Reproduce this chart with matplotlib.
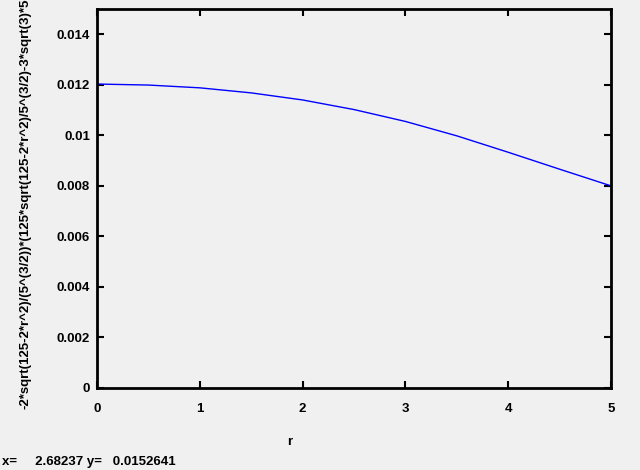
import matplotlib
matplotlib.use("Agg")
import matplotlib.pyplot as plt
from matplotlib import font_manager

r_vals = [0.0, 0.5, 1.0, 1.5, 2.0, 2.5, 3.0, 3.5, 4.0, 4.5, 5.0]
f_vals = [0.01203, 0.01199, 0.01188, 0.01168, 0.01140, 0.01102,
          0.01055, 0.00998, 0.00933, 0.00866, 0.00800]
x_ticks = [0, 1, 2, 3, 4, 5]
y_ticks = [0, 0.002, 0.004, 0.006, 0.008, 0.01, 0.012, 0.014]
y_tick_labels = ["0", "0.002", "0.004", "0.006", "0.008", "0.01", "0.012", "0.014"]
y_label = "-2*sqrt(125-2*r^2)/(5^(3/2))*(125*sqrt(125-2*r^2)/5^(3/2)-3*sqrt(3)*5^(5/2))"
status = "x=     2.68237 y=   0.0152641"

names = {f.name for f in font_manager.fontManager.ttflist}
if 'Liberation Sans Narrow' in names:
    fam = ['Liberation Sans Narrow', 'DejaVu Sans']
    fs = 11
else:
    fam = ['Liberation Sans', 'DejaVu Sans']
    fs = 9.5
plt.rcParams['font.family'] = fam
plt.rcParams['font.weight'] = 'bold'

bg = '#f0f0f0'
fig = plt.figure(figsize=(6.4, 4.7), dpi=100, facecolor=bg)
ax = fig.add_axes([97/640, 1-388/470, (611-97)/640, (388-9)/470])
ax.set_facecolor(bg)
ax.plot(r_vals, f_vals, color='#0000ff', lw=1.0)
ax.set_xlim(0, 5)
ax.set_ylim(0, 0.015)
ax.set_xticks(x_ticks)
ax.set_xticklabels([str(t) for t in x_ticks])
ax.set_yticks(y_ticks)
ax.set_yticklabels(y_tick_labels)
ax.tick_params(direction='in', length=5, width=1.5, top=True, right=True,
               labelsize=fs, colors='black')
ax.tick_params(axis='x', pad=11)
ax.tick_params(axis='y', pad=5)
for s in ax.spines.values():
    s.set_linewidth(2)
    s.set_color('black')

fig.text(26/640, 1-409/470, y_label, rotation=90, ha='center', va='bottom', fontsize=fs)
fig.text(290/640, 1-442/470, "r", ha='center', va='center', fontsize=fs)
fig.text(2/640, 1-462/470, status, ha='left', va='center', fontsize=fs)

fig.savefig("out.png", dpi=100, facecolor=bg)
